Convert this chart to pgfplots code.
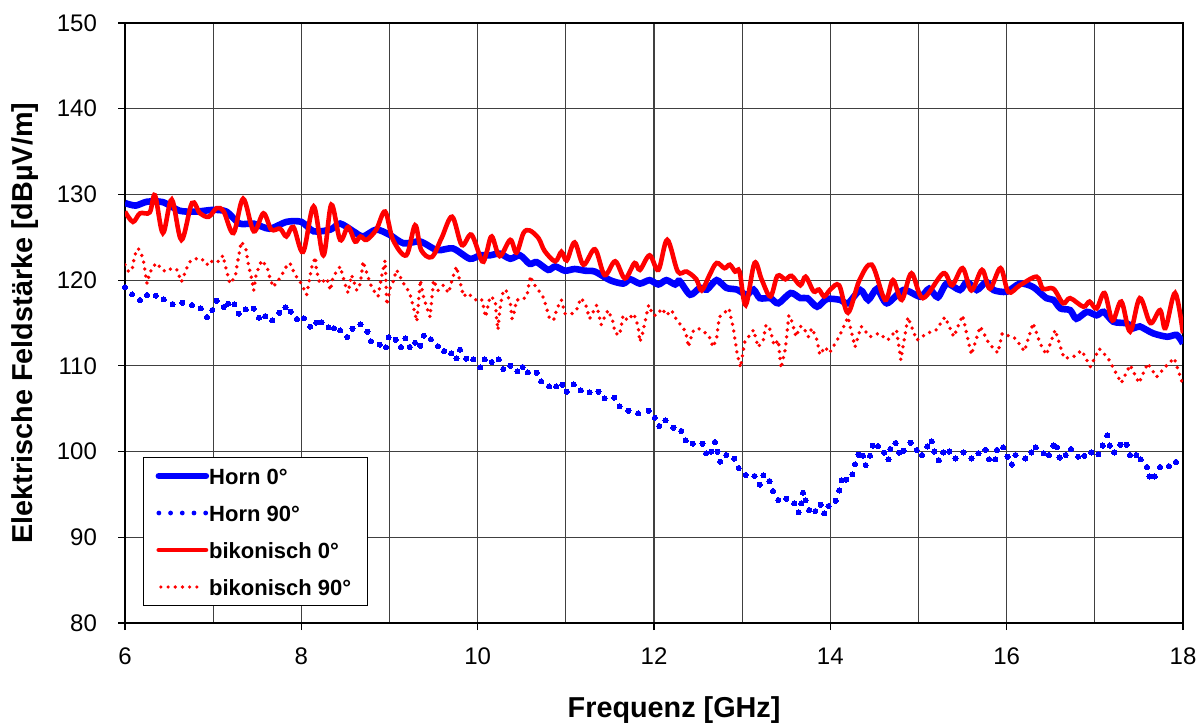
\documentclass[border=0pt]{standalone}
\usepackage{fontspec}
\setmainfont{Liberation Sans}
\usepackage{pgfplots}
\usepackage{pgfplotstable}
\pgfplotsset{compat=1.18}
\definecolor{hornblue}{RGB}{0,0,255}
\definecolor{bikored}{RGB}{255,0,0}

% Horn antenna, 0 degrees
\pgfplotstableread{
f E
6.00 129.0
6.12 128.7
6.25 129.15
6.43 129.1
6.62 128.1
6.81 128.0
7.00 128.2
7.15 128.0
7.30 126.6
7.46 126.6
7.64 126.0
7.83 126.8
8.00 126.8
8.14 125.7
8.33 125.9
8.44 126.6
8.59 125.7
8.70 125.1
8.85 125.9
9.00 125.3
9.16 124.3
9.35 124.5
9.54 123.5
9.72 123.7
9.91 122.5
10.03 122.9
10.14 122.9
10.25 123.1
10.37 122.5
10.48 122.9
10.59 121.9
10.67 122.1
10.80 121.2
10.88 121.6
10.99 121.1
11.10 121.3
11.22 121.1
11.33 121.0
11.50 120.0
11.65 119.6
11.73 120.1
11.84 119.6
11.95 120.0
12.05 119.5
12.14 120.0
12.24 119.5
12.29 119.9
12.41 118.3
12.52 119.1
12.60 118.9
12.71 120.0
12.82 119.1
12.94 118.9
13.05 118.3
13.13 118.9
13.20 117.9
13.32 117.9
13.41 117.3
13.55 118.5
13.66 117.9
13.74 117.9
13.85 116.9
13.96 117.8
14.11 117.7
14.20 117.3
14.34 118.85
14.43 117.7
14.53 119.0
14.64 117.3
14.83 118.85
15.02 118.07
15.12 119.0
15.22 118.0
15.32 119.6
15.47 118.85
15.55 119.8
15.66 118.85
15.77 119.8
15.85 118.85
16.00 118.65
16.15 119.6
16.30 119.2
16.45 117.9
16.53 117.7
16.61 116.7
16.72 116.5
16.79 115.5
16.91 116.3
17.02 115.9
17.10 116.3
17.21 115.15
17.36 114.96
17.44 114.4
17.51 114.6
17.66 113.8
17.82 113.4
17.93 113.6
18.00 112.6
}\hornnull

% Horn antenna, 90 degrees
\pgfplotstableread{
f E
6.00 119.16
6.08 118.34
6.17 117.68
6.25 118.27
6.35 118.19
6.44 117.76
6.54 117.21
6.65 117.37
6.76 117.1
6.86 116.71
6.93 115.7
6.99 116.51
7.04 117.6
7.12 116.87
7.17 117.25
7.24 117.18
7.29 116.09
7.37 116.59
7.46 116.67
7.52 115.62
7.59 115.8
7.67 115.31
7.75 116.2
7.82 116.83
7.88 116.32
7.95 115.47
8.03 115.54
8.10 114.57
8.17 115.04
8.23 115.08
8.31 114.49
8.37 114.38
8.44 114.14
8.52 113.37
8.58 114.34
8.67 114.84
8.75 113.99
8.79 112.86
8.89 112.47
8.96 112.16
8.99 113.33
9.07 113.05
9.13 112.2
9.18 113.21
9.23 112.2
9.29 112.7
9.35 112.35
9.39 113.52
9.47 113.09
9.55 112.28
9.62 111.73
9.70 111.46
9.76 110.88
9.80 111.89
9.87 110.84
9.95 110.76
10.03 109.83
10.08 110.76
10.16 110.45
10.24 110.76
10.29 109.63
10.37 110.02
10.45 109.36
10.51 109.86
10.57 109.24
10.67 109.2
10.72 108.19
10.81 107.61
10.89 107.61
10.96 107.8
11.01 106.99
11.09 107.84
11.17 107.14
11.27 106.91
11.37 106.99
11.44 106.21
11.55 106.29
11.61 105.28
11.71 104.77
11.82 104.46
11.94 104.77
12.01 103.95
12.06 102.98
12.13 103.64
12.22 102.79
12.31 102.4
12.36 101.31
12.44 100.92
12.55 100.92
12.59 99.79
12.65 99.99
12.69 101.11
12.72 99.99
12.75 98.82
12.82 99.6
12.91 99.17
12.96 98.08
13.04 97.27
13.14 97.15
13.20 96.14
13.24 97.23
13.31 96.56
13.35 95.4
13.41 94.35
13.50 94.5
13.59 93.96
13.64 92.91
13.67 93.96
13.69 95.2
13.72 94.31
13.76 93.18
13.83 93.06
13.89 93.8
13.93 92.79
13.98 93.65
14.06 94.27
14.10 95.47
14.13 96.64
14.18 96.72
14.25 97.34
14.28 98.51
14.32 99.64
14.37 99.52
14.40 98.43
14.45 99.52
14.48 100.69
14.54 100.65
14.61 99.87
14.66 99.09
14.68 100.3
14.74 101.0
14.78 99.87
14.83 100.1
14.91 101.04
14.98 100.18
15.04 99.6
15.10 100.6
15.15 101.2
15.18 100.0
15.23 99.0
15.28 99.9
15.35 100.0
15.42 99.2
15.51 99.9
15.60 99.2
15.68 99.8
15.76 100.2
15.80 99.1
15.87 99.1
15.89 100.2
15.96 100.5
16.01 99.4
16.06 98.5
16.10 99.6
16.21 99.2
16.28 99.9
16.33 100.5
16.42 99.8
16.48 99.6
16.53 100.7
16.57 100.5
16.60 99.3
16.67 99.6
16.73 100.3
16.81 99.4
16.88 99.5
16.96 99.9
17.04 99.7
17.09 100.7
17.14 101.9
17.17 100.7
17.22 99.9
17.29 100.8
17.36 100.8
17.40 99.6
17.47 99.6
17.52 99.1
17.59 98.2
17.62 97.1
17.68 97.1
17.74 98.2
17.84 98.3
17.92 98.8
}\hornneunzig

% Biconical antenna, 0 degrees
\pgfplotstableread{
f E
6.00 128.0
6.09 126.8
6.17 127.8
6.28 127.9
6.34 129.9
6.43 125.5
6.53 129.4
6.64 124.7
6.76 129.0
6.85 127.8
6.95 127.4
7.04 128.4
7.12 128.0
7.23 125.5
7.34 129.5
7.46 125.7
7.57 127.8
7.66 125.9
7.76 126.0
7.83 125.1
7.91 126.2
8.02 123.3
8.14 128.6
8.25 122.9
8.34 128.8
8.44 124.7
8.53 126.2
8.61 124.5
8.67 125.1
8.74 124.7
8.85 125.9
8.95 128.0
9.04 124.7
9.19 122.9
9.29 126.4
9.36 123.5
9.48 122.7
9.59 124.9
9.71 127.4
9.82 124.1
9.93 125.3
10.05 122.2
10.10 123.2
10.16 125.1
10.25 122.8
10.37 124.7
10.44 123.2
10.52 125.5
10.59 125.8
10.69 124.9
10.76 123.4
10.88 122.2
10.95 123.3
11.01 122.3
11.10 124.4
11.20 121.8
11.33 123.6
11.44 120.6
11.56 122.2
11.67 120.2
11.78 122.0
11.84 121.2
11.95 122.9
12.05 121.2
12.15 124.7
12.27 121.0
12.37 121.0
12.48 120.1
12.54 118.8
12.63 120.6
12.71 122.0
12.80 121.4
12.86 121.8
12.92 121.0
12.97 121.0
13.04 117.1
13.14 122.0
13.22 120.1
13.32 118.1
13.40 120.5
13.49 120.1
13.56 120.5
13.66 119.4
13.72 120.4
13.81 118.7
13.87 118.9
13.93 118.1
14.00 118.9
14.10 119.4
14.20 116.2
14.33 120.0
14.47 121.8
14.62 117.7
14.71 120.0
14.81 117.7
14.92 120.8
15.05 117.9
15.28 120.8
15.38 119.4
15.50 121.4
15.60 118.8
15.72 121.2
15.81 119.0
15.93 121.4
16.02 118.6
16.15 119.4
16.34 120.4
16.41 119.0
16.53 119.0
16.64 117.3
16.72 117.9
16.87 116.9
16.94 117.5
17.02 116.7
17.11 118.5
17.20 115.3
17.30 117.5
17.40 114.0
17.51 117.9
17.63 115.0
17.74 116.5
17.80 114.4
17.91 118.5
18.00 113.8
}\bikonull

% Biconical antenna, 90 degrees
\pgfplotstableread{
f E
6.00 121.8
6.04 121.0
6.08 121.2
6.11 122.9
6.15 123.7
6.19 122.9
6.21 122.2
6.25 119.6
6.28 120.8
6.32 121.6
6.36 122.0
6.42 121.2
6.47 121.0
6.53 121.4
6.59 121.2
6.64 119.8
6.70 121.4
6.74 122.2
6.79 122.5
6.87 122.5
6.93 121.8
6.96 122.3
7.02 122.0
7.08 122.3
7.11 122.9
7.15 121.2
7.19 119.6
7.25 120.4
7.29 122.9
7.32 124.5
7.37 123.7
7.40 121.8
7.44 120.0
7.46 118.8
7.49 120.8
7.55 122.3
7.61 121.6
7.64 120.4
7.68 119.2
7.74 120.0
7.80 121.0
7.83 121.6
7.87 122.0
7.93 120.6
8.00 119.6
8.06 118.3
8.12 121.6
8.16 122.7
8.17 121.2
8.21 119.6
8.29 120.2
8.33 118.8
8.36 120.4
8.44 121.6
8.50 119.4
8.53 118.5
8.57 120.6
8.63 118.8
8.67 119.6
8.70 122.2
8.78 119.6
8.82 118.8
8.87 118.1
8.91 120.4
8.95 122.3
8.97 117.1
9.01 119.2
9.04 119.8
9.08 121.2
9.16 119.6
9.23 118.5
9.27 116.9
9.31 115.2
9.35 120.0
9.38 118.3
9.42 116.9
9.46 115.7
9.50 120.0
9.55 118.8
9.61 119.4
9.67 118.5
9.72 120.4
9.76 121.6
9.80 119.8
9.84 118.1
9.89 118.5
9.95 117.9
10.01 117.5
10.05 117.7
10.07 116.7
10.09 115.7
10.14 118.1
10.20 117.7
10.21 115.9
10.23 114.2
10.25 116.5
10.27 117.7
10.29 118.7
10.32 118.9
10.37 117.3
10.39 115.5
10.42 116.5
10.44 117.7
10.50 117.7
10.56 118.1
10.57 118.9
10.60 120.5
10.62 119.8
10.69 118.8
10.73 118.3
10.76 117.5
10.81 115.7
10.86 115.3
10.90 116.7
10.95 117.7
10.99 116.1
11.07 116.1
11.12 116.5
11.17 117.9
11.22 117.3
11.27 115.5
11.32 116.5
11.35 117.1
11.40 114.8
11.44 115.7
11.48 116.5
11.53 115.3
11.56 113.8
11.61 113.6
11.65 115.9
11.70 115.3
11.77 116.1
11.82 114.6
11.84 112.8
11.87 113.8
11.91 115.7
11.94 117.1
11.99 115.9
12.03 115.9
12.09 116.7
12.14 115.9
12.20 116.5
12.25 115.5
12.30 114.8
12.36 114.0
12.39 112.2
12.44 114.0
12.50 114.4
12.56 114.0
12.62 113.6
12.67 112.2
12.71 113.2
12.74 115.7
12.81 116.3
12.85 116.7
12.90 114.4
12.94 111.6
12.98 109.8
13.03 112.8
13.13 114.2
13.18 112.2
13.24 113.0
13.27 114.8
13.32 114.2
13.36 112.4
13.41 113.0
13.44 109.7
13.49 112.0
13.53 115.9
13.56 115.3
13.61 113.4
13.66 114.6
13.69 114.6
13.75 113.4
13.79 114.4
13.85 113.0
13.88 111.3
13.94 112.2
13.99 111.5
14.10 113.4
14.20 115.7
14.28 112.2
14.35 114.6
14.45 113.4
14.55 113.8
14.65 113.0
14.75 114.2
14.80 110.7
14.88 115.7
14.98 113.0
15.10 113.8
15.20 114.2
15.30 115.7
15.40 113.4
15.50 115.9
15.60 111.3
15.70 114.6
15.80 112.6
15.90 111.5
15.95 113.8
16.10 113.2
16.20 111.7
16.30 115.0
16.38 112.6
16.45 111.3
16.55 114.2
16.65 110.9
16.75 111.0
16.85 111.8
16.95 109.9
17.05 112.0
17.15 110.9
17.30 108.0
17.40 110.1
17.50 108.0
17.60 110.3
17.70 108.7
17.80 109.9
17.90 110.9
18.00 107.8
}\bikoneunzig

\begin{document}
\begin{tikzpicture}
\useasboundingbox (0,0) rectangle (601.5pt,362.5pt);
\begin{axis}[
  at={(62.5pt,51pt)}, anchor=south west,
  scale only axis, width=529pt, height=300pt,
  xmin=6, xmax=18, ymin=80, ymax=150,
  xtick={6,8,...,18}, minor xtick={7,9,...,17},
  ytick={80,90,...,150},
  grid=both,
  major grid style={black!75, line width=0.55pt},
  minor grid style={black!75, line width=0.55pt},
  tick align=outside, major tick length=3.5pt, minor tick length=0pt,
  xtick pos=left, ytick pos=left,
  tick style={black, line width=0.6pt},
  axis line style={black, line width=0.6pt},
  /pgf/number format/assume math mode=true,
  ticklabel style={font=\fontsize{12}{14}\selectfont},
  xticklabel shift=5.5pt, yticklabel shift=7pt,
  xlabel={Frequenz [GHz]},
  ylabel={Elektrische Feldstärke [dBµV/m]},
  label style={font=\fontsize{14.4}{17}\selectfont\bfseries},
  xlabel style={at={(axis description cs:0.519,-0.158)}, anchor=base},
  ylabel style={at={(axis description cs:-0.0945,0.5)}, anchor=center},
  legend cell align=left,
  legend style={at={(0.017,0.028)}, anchor=south west,
    draw=black, line width=0.6pt, fill=white,
    font=\fontsize{11}{13}\selectfont\bfseries,
    inner xsep=6pt, inner ysep=2.8pt, row sep=5.5pt, column sep=-2pt,
    nodes={text height=8.5pt, text depth=0.5pt, inner sep=2pt}},
]
\addplot[hornblue, line width=3.3pt, smooth, tension=0.45,
  legend image code/.code={\draw[hornblue, line width=3.3pt, line cap=round] (0pt,0pt) -- (23.5pt,0pt);}]
  table[x=f, y=E] {\hornnull};
\addlegendentry{Horn 0°}
\addplot[hornblue, only marks, mark=*, mark size=1.3pt,
  mark options={solid, draw=hornblue, fill=hornblue, line width=0pt},
  legend image code/.code={\draw[hornblue, line width=2.4pt, line cap=round, dash pattern=on 0pt off 5.85pt] (0pt,0pt) -- (23.5pt,0pt);}]
  table[x=f, y=E] {\hornneunzig};
\addlegendentry{Horn 90°}
\addplot[bikored, line width=2.3pt, smooth, tension=0.55,
  legend image code/.code={\draw[bikored, line width=2.4pt, line cap=round] (0pt,0pt) -- (23.5pt,0pt);}]
  table[x=f, y=E] {\bikonull};
\addlegendentry{bikonisch 0°}
\addplot[bikored, line width=1.9pt, line cap=round, line join=round, dash pattern=on 0pt off 3.5pt,
  legend image code/.code={\draw[bikored, line width=1.8pt, line cap=round, dash pattern=on 0pt off 3.6pt] (1pt,0pt) -- (19.5pt,0pt);}]
  table[x=f, y=E] {\bikoneunzig};
\addlegendentry{bikonisch 90°}
\end{axis}
\end{tikzpicture}
\end{document}
